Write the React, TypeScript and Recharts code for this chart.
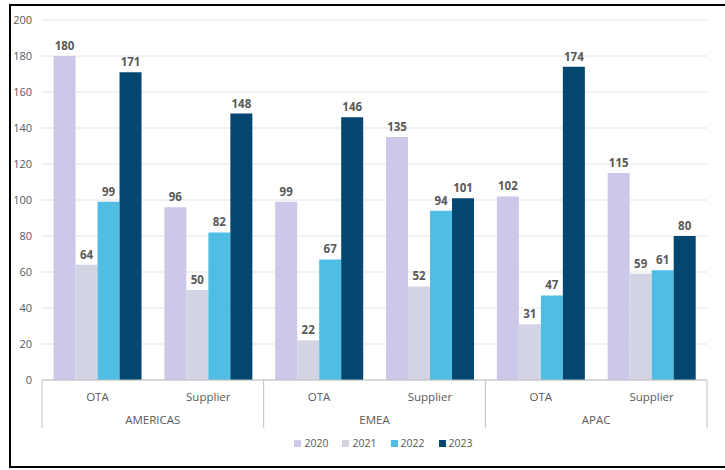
import React from 'react';
import { BarChart, Bar, XAxis, YAxis, CartesianGrid, Legend, LabelList } from 'recharts';

const regions = ['AMERICAS', 'AMERICAS', 'EMEA', 'EMEA', 'APAC', 'APAC'];
const channels = ['OTA', 'Supplier', 'OTA', 'Supplier', 'OTA', 'Supplier'];
const v2020 = [180, 96, 99, 135, 102, 115];
const v2021 = [64, 50, 22, 52, 31, 59];
const v2022 = [99, 82, 67, 94, 47, 61];
const v2023 = [171, 148, 146, 101, 174, 80];
const yTicks = [0, 20, 40, 60, 80, 100, 120, 140, 160, 180, 200];

const seriesNames = ['2020', '2021', '2022', '2023'];
const seriesColors = ['#cbc8ea', '#d2d4e4', '#50bde5', '#03466f'];

const data = channels.map((c, i) => ({
  key: `${regions[i]}-${c}-${i}`,
  channel: c,
  region: regions[i],
  '2020': v2020[i],
  '2021': v2021[i],
  '2022': v2022[i],
  '2023': v2023[i],
}));

const W = 725;
const H = 470;
const M = { top: 20, right: 18, left: 0, bottom: 10 };
const Y_W = 42;
const BAND = (W - M.left - M.right - Y_W) / channels.length;
const FONT = "'Open Sans', 'Noto Sans', sans-serif";

const AxisTick = (props: any) => {
  const { x, y, payload, index } = props;
  const i = payload?.index ?? index;
  const axisY = y;
  const half = BAND / 2;
  return (
    <g>
      <text x={x} y={axisY + 21} textAnchor="middle" fontSize={11.5} fill="#595959" fontFamily={FONT}>
        {channels[i]}
      </text>
      {i % 2 === 1 && (
        <text x={x - half} y={axisY + 44} textAnchor="middle" fontSize={11.5} fill="#595959" fontFamily={FONT}>
          {regions[i]}
        </text>
      )}
      {i % 2 === 0 && (
        <line x1={x - half} x2={x - half} y1={axisY} y2={axisY + 48} stroke="#bfbfbf" strokeWidth={1} />
      )}
      {i === channels.length - 1 && (
        <line x1={x + half} x2={x + half} y1={axisY} y2={axisY + 48} stroke="#bfbfbf" strokeWidth={1} />
      )}
    </g>
  );
};

const LegendContent = () => (
  <div style={{ display: 'flex', justifyContent: 'center', gap: 14, fontFamily: FONT, fontSize: 10.5, color: '#595959', paddingLeft: 60, marginTop: 6 }}>
    {seriesNames.map((n, i) => (
      <div key={n} style={{ display: 'flex', alignItems: 'center', gap: 3 }}>
        <span style={{ display: 'inline-block', width: 7, height: 7, background: seriesColors[i] }} />
        <span>{n}</span>
      </div>
    ))}
  </div>
);

export default function App() {
  return (
    <div style={{ position: 'absolute', left: 0, top: 0, width: W, height: H, overflow: 'hidden', background: '#fff' }}>
      <div style={{ position: 'absolute', left: 9, top: 4, width: 740, height: 460, border: '2px solid #000' }} />
      <div style={{ position: 'absolute', left: 0, top: 0 }}>
        <BarChart width={W} height={H} data={data} margin={M} barCategoryGap="10.4%" barGap={0}>
          <CartesianGrid vertical={false} stroke="#e3e3e3" />
          <XAxis
            dataKey="key"
            interval={0}
            tickLine={false}
            tickSize={0}
            tickMargin={0}
            axisLine={{ stroke: '#bfbfbf' }}
            height={50}
            tick={<AxisTick />}
          />
          <YAxis
            width={Y_W}
            domain={[0, 200]}
            ticks={yTicks}
            axisLine={false}
            tickLine={false}
            tickMargin={4}
            tick={{ fontSize: 11, fill: '#595959', fontFamily: FONT }}
          />
          <Legend verticalAlign="bottom" height={30} content={<LegendContent />} />
          {seriesNames.map((n, i) => (
            <Bar key={n} dataKey={n} fill={seriesColors[i]} isAnimationActive={false}>
              <LabelList dataKey={n} position="top" offset={6} fill="#595959" fontSize={11.5} fontWeight="bold" fontFamily={FONT} />
            </Bar>
          ))}
        </BarChart>
      </div>
    </div>
  );
}
